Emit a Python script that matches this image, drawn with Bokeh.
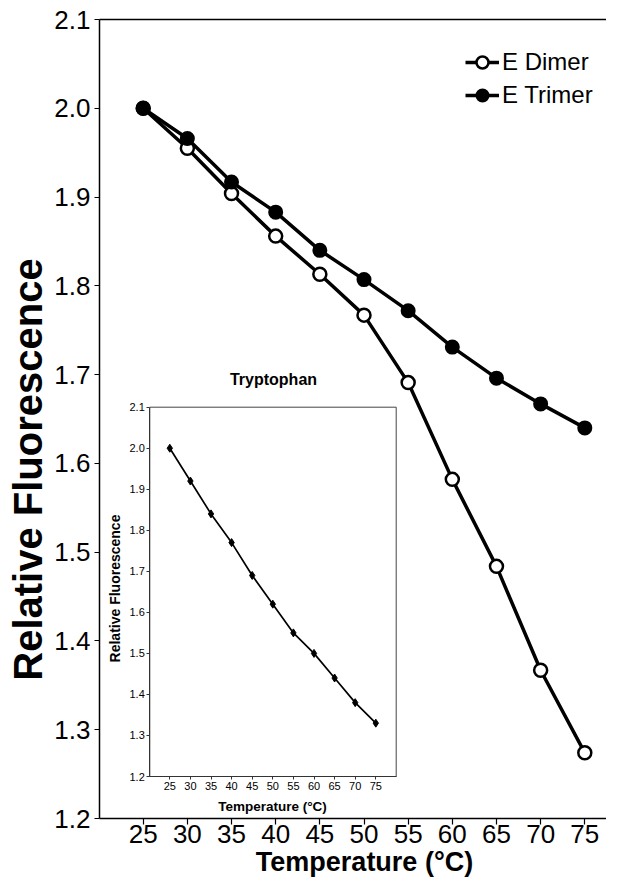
from math import pi
from bokeh.plotting import figure
from bokeh.models import (Range1d, LinearAxis, FixedTicker, PrintfTickFormatter,
                          Label, Legend, LegendItem)
from bokeh.embed import file_html
from bokeh.resources import INLINE

# ---------------- data ----------------
temperature = [25, 30, 35, 40, 45, 50, 55, 60, 65, 70, 75]
e_dimer = [2.000, 1.955, 1.904, 1.856, 1.813, 1.767, 1.691, 1.582, 1.484, 1.367, 1.274]
e_trimer = [2.000, 1.966, 1.917, 1.883, 1.840, 1.807, 1.772, 1.731, 1.696, 1.667, 1.640]
tryptophan = [2.00, 1.92, 1.84, 1.77, 1.69, 1.62, 1.55, 1.50, 1.44, 1.38, 1.33]
x_ticks = [25, 30, 35, 40, 45, 50, 55, 60, 65, 70, 75]
y_ticks = [1.2, 1.3, 1.4, 1.5, 1.6, 1.7, 1.8, 1.9, 2.0, 2.1]
inset_y_ticks = [1.2, 1.3, 1.4, 1.5, 1.6, 1.7, 1.8, 1.9, 2.0, 2.1]
series_labels = ["E Dimer", "E Trimer"]

FONT = "Liberation Sans"

# ---------------- layout (pixels inside the figure canvas) ----------------
W, H = 606, 877
FL, FR, FT, FB = 99, 606, 19, 818            # main plotting box
MX25, MX75 = 142.7, 584.3                    # main x tick 25 / 75
IL, IR, IT, IB = 149.3, 395.7, 406.7, 776.0  # inset box
IX25, IX75 = 169.3, 375.3                    # inset x tick 25 / 75


def mx(px):
    return 25 + (px - MX25) * 50 / (MX75 - MX25)


def my(py):
    return y_ticks[0] + (FB - py) * (y_ticks[-1] - y_ticks[0]) / (FB - FT)


def ix(px):
    return 25 + (px - IX25) * 50 / (IX75 - IX25)


def iy(py):
    return inset_y_ticks[0] + (IB - py) * (inset_y_ticks[-1] - inset_y_ticks[0]) / (IB - IT)


p = figure(width=W, height=H,
           x_range=Range1d(mx(0), mx(W)), y_range=Range1d(my(H), my(0)),
           x_axis_location=None, y_axis_location=None,
           output_backend="svg", toolbar_location=None,
           min_border_left=0, min_border_right=0, min_border_top=0, min_border_bottom=0)
p.outline_line_color = None
p.xgrid.visible = False
p.ygrid.visible = False
p.background_fill_color = "white"
p.border_fill_color = "white"

p.extra_x_ranges = {"ix": Range1d(ix(0), ix(W))}
p.extra_y_ranges = {"iy": Range1d(iy(H), iy(0))}

# ---------------- main axes ----------------
ya = LinearAxis(fixed_location=mx(FL), bounds=(y_ticks[0], y_ticks[-1]),
                ticker=FixedTicker(ticks=y_ticks),
                formatter=PrintfTickFormatter(format="%.1f"))
xa = LinearAxis(fixed_location=y_ticks[0], bounds=(mx(FL), mx(FR)),
                ticker=FixedTicker(ticks=x_ticks))
ta = LinearAxis(fixed_location=y_ticks[-1], bounds=(mx(FL), mx(FR)),
                ticker=FixedTicker(ticks=[]))
for ax in (xa, ya, ta):
    ax.axis_line_color = "black"
    ax.axis_line_width = 1.5
    ax.major_tick_line_color = "black"
    ax.major_tick_line_width = 1.2
    ax.major_tick_in = 0
    ax.minor_tick_line_color = None
    ax.major_label_text_font = FONT
    ax.major_label_text_font_size = "26px"
    ax.major_label_text_color = "black"
xa.major_tick_out = 6
xa.major_label_standoff = 0
ya.major_tick_out = 5
ya.major_label_standoff = 4
p.add_layout(ya, "left")
p.add_layout(xa, "below")
p.add_layout(ta, "above")

# ---------------- main series ----------------
dl = p.line(temperature, e_dimer, line_width=3.5, line_color="black")
ds = p.scatter(temperature, e_dimer, marker="circle", size=13,
               fill_color="white", line_color="black", line_width=2.5)
tl = p.line(temperature, e_trimer, line_width=3.5, line_color="black")
ts = p.scatter(temperature, e_trimer, marker="circle", size=13,
               fill_color="black", line_color="black", line_width=2)

legend = Legend(items=[LegendItem(label=series_labels[0], renderers=[dl, ds]),
                       LegendItem(label=series_labels[1], renderers=[tl, ts])],
                location=(465, 767), orientation="vertical",
                glyph_width=34, glyph_height=30, label_height=30, spacing=3,
                padding=0, margin=0, label_standoff=3,
                label_text_font=FONT, label_text_font_size="24px",
                label_text_color="black",
                border_line_color=None, background_fill_alpha=0)
p.add_layout(legend)

# ---------------- inset ----------------
p.quad(left=ix(IL), right=ix(IR), bottom=inset_y_ticks[0], top=inset_y_ticks[-1],
       x_range_name="ix", y_range_name="iy",
       fill_color="white", line_color="#444444", line_width=1)
p.line(temperature, tryptophan, x_range_name="ix", y_range_name="iy",
       line_width=1.7, line_color="black")
p.scatter(temperature, tryptophan, x_range_name="ix", y_range_name="iy",
          marker="diamond", size=8, fill_color="black", line_color="black")

iya = LinearAxis(x_range_name="ix", y_range_name="iy", fixed_location=ix(IL),
                 bounds=(inset_y_ticks[0], inset_y_ticks[-1]),
                 ticker=FixedTicker(ticks=inset_y_ticks),
                 formatter=PrintfTickFormatter(format="%.1f"))
ixa = LinearAxis(x_range_name="ix", y_range_name="iy", fixed_location=inset_y_ticks[0],
                 bounds=(ix(IL), ix(IR)), ticker=FixedTicker(ticks=x_ticks))
for ax in (iya, ixa):
    ax.axis_line_color = "#333333"
    ax.axis_line_width = 1
    ax.major_tick_line_color = "#333333"
    ax.major_tick_in = 0
    ax.major_tick_out = 3
    ax.minor_tick_line_color = None
    ax.major_label_standoff = 2
    ax.major_label_text_font = FONT
    ax.major_label_text_font_size = "11px"
    ax.major_label_text_color = "black"
p.add_layout(iya, "left")
p.add_layout(ixa, "below")

# ---------------- titles ----------------
p.add_layout(Label(x=mx(27), y=my(469), text="Relative Fluorescence", angle=pi / 2,
                   text_align="center", text_baseline="middle", text_font=FONT,
                   text_font_size="40px", text_font_style="bold", text_color="black"))
p.add_layout(Label(x=mx(364), y=my(861), text="Temperature (°C)",
                   text_align="center", text_baseline="middle", text_font=FONT,
                   text_font_size="27px", text_font_style="bold", text_color="black"))
p.add_layout(Label(x=ix(273), y=iy(379), text="Tryptophan", x_range_name="ix", y_range_name="iy",
                   text_align="center", text_baseline="middle", text_font=FONT,
                   text_font_size="16px", text_font_style="bold", text_color="black"))
p.add_layout(Label(x=ix(114), y=iy(588), text="Relative Fluorescence", angle=pi / 2,
                   x_range_name="ix", y_range_name="iy",
                   text_align="center", text_baseline="middle", text_font=FONT,
                   text_font_size="14px", text_font_style="bold", text_color="black"))
p.add_layout(Label(x=ix(272), y=iy(806), text="Temperature (°C)",
                   x_range_name="ix", y_range_name="iy",
                   text_align="center", text_baseline="middle", text_font=FONT,
                   text_font_size="13.5px", text_font_style="bold", text_color="black"))

open("out.html", "w").write(file_html(p, INLINE))
